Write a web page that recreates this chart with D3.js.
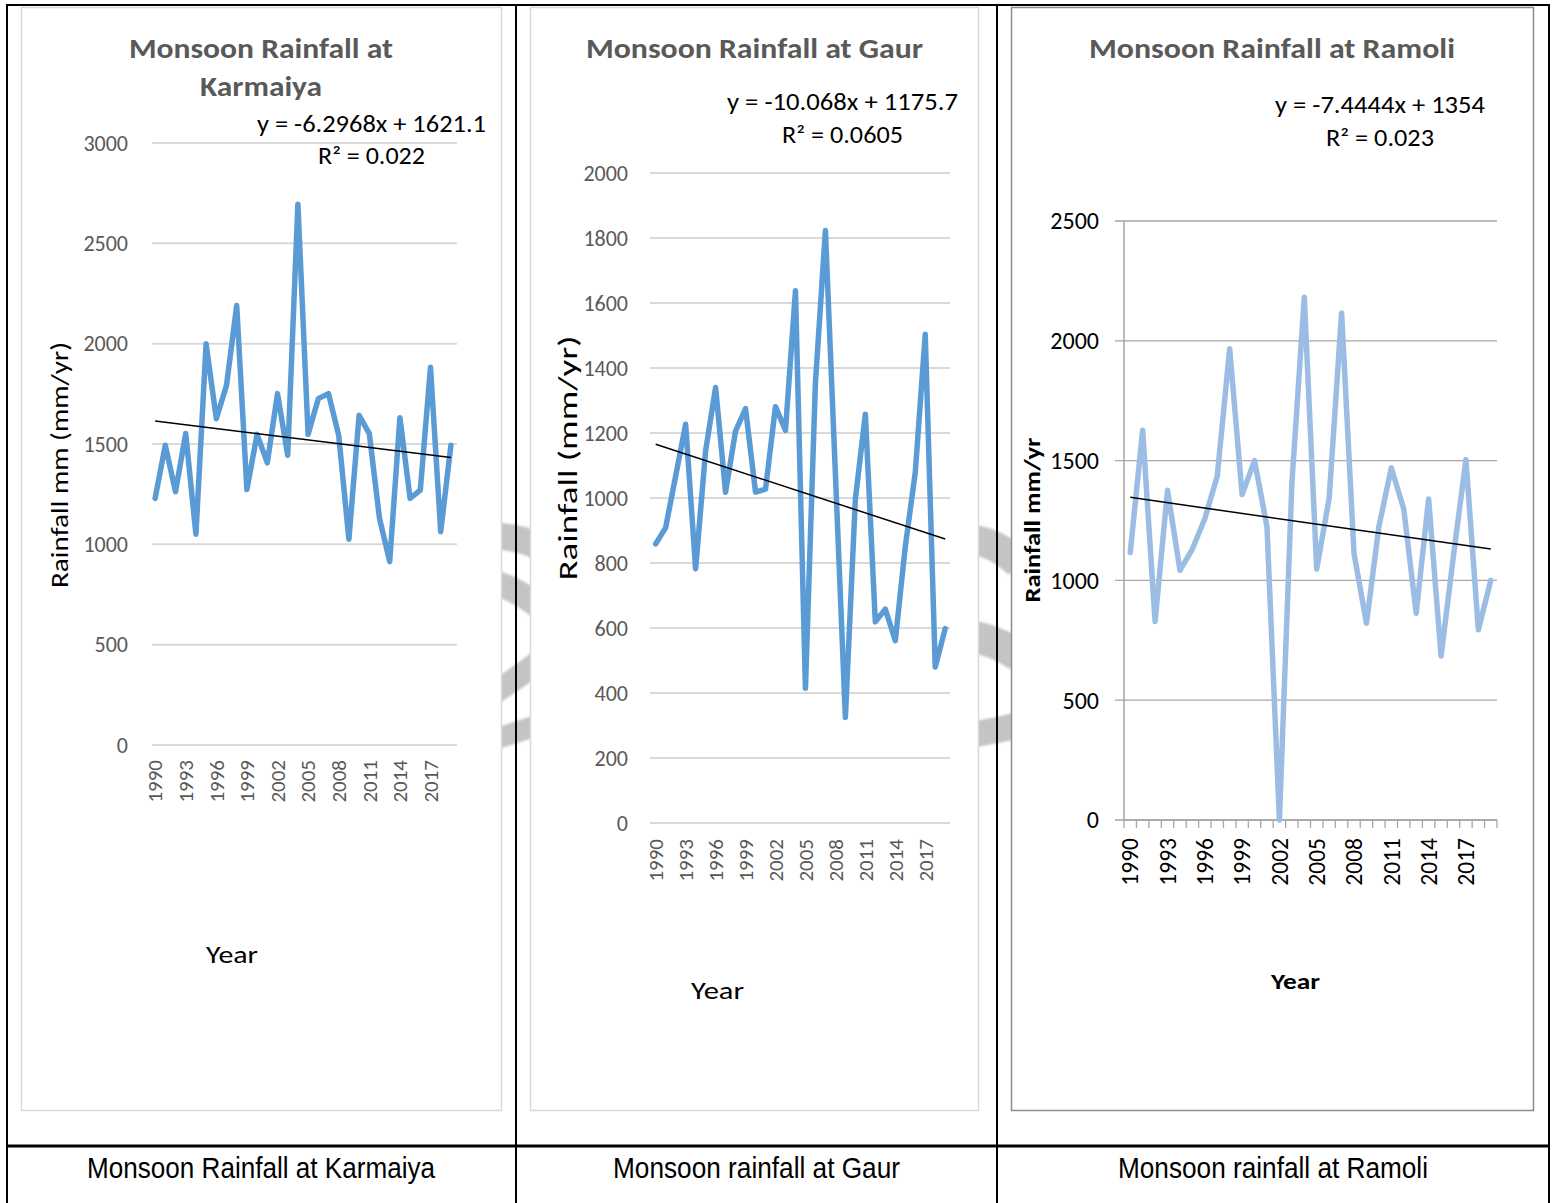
<!DOCTYPE html>
<html><head><meta charset="utf-8">
<script src="https://cdn.jsdelivr.net/npm/d3@7"></script>
<style>body{margin:0;background:#fff} svg{display:block}</style>
</head><body>
<svg id="c" width="1556" height="1203"></svg>
<script>
// ---------------- DATA ----------------
const years = [1990,1991,1992,1993,1994,1995,1996,1997,1998,1999,2000,2001,2002,2003,2004,2005,2006,2007,2008,2009,2010,2011,2012,2013,2014,2015,2016,2017,2018,2019];
const xTickYears = [1990,1993,1996,1999,2002,2005,2008,2011,2014,2017];

const karmaiya = [1229,1494,1262,1552,1050,1999,1626,1792,2190,1273,1548,1406,1751,1444,2695,1548,1726,1751,1543,1025,1643,1552,1129,914,1631,1229,1270,1883,1063,1494];
const gaur     = [859,909,1068,1227,782,1145,1340,1018,1206,1275,1018,1027,1281,1208,1638,415,1355,1823,1075,325,996,1258,619,658,561,850,1078,1504,480,598];
const ramoli   = [1116,1627,828,1376,1042,1131,1257,1436,1967,1358,1500,1224,0,1403,2182,1048,1343,2116,1112,821,1224,1470,1298,863,1340,684,1104,1504,794,1000];

const karmaiyaTicks = [0,500,1000,1500,2000,2500,3000];
const gaurTicks = [0,200,400,600,800,1000,1200,1400,1600,1800,2000];
const ramoliTicks = [0,500,1000,1500,2000,2500];

const karmaiyaTrend = {slope:-6.2968, intercept:1621.1, eq:"y = -6.2968x + 1621.1", r2:"R\u00B2 = 0.022"};
const gaurTrend     = {slope:-10.068, intercept:1175.7, eq:"y = -10.068x + 1175.7", r2:"R\u00B2 = 0.0605"};
const ramoliTrend   = {slope:-7.4444, intercept:1354,   eq:"y = -7.4444x + 1354",   r2:"R\u00B2 = 0.023"};

const captions = ["Monsoon Rainfall at Karmaiya","Monsoon rainfall at Gaur","Monsoon rainfall at Ramoli"];

// ---------------- LAYOUT ----------------
const FONT = "Carlito, Calibri, Lato, sans-serif";
const svg = d3.select("#c");

const defs = svg.append("defs");
defs.append("filter").attr("id","soft").append("feGaussianBlur").attr("stdDeviation",1.2);

function txt(g, s, cx, y, len, opts) {
  opts = opts || {};
  return g.append("text")
    .attr("x", cx - len/2).attr("y", y)
    .attr("font-family", opts.family || FONT)
    .attr("font-size", opts.size || 22)
    .attr("font-weight", opts.weight || "normal")
    .attr("fill", opts.fill || "#000")
    .attr("textLength", len).attr("lengthAdjust", "spacingAndGlyphs")
    .text(s);
}

// watermark fragments behind charts
const wm = svg.append("g").attr("fill","none").attr("stroke","#c4c4c4").attr("filter","url(#soft)");
[
  ["M492,536 Q515,536 538,546",27],["M492,582 Q515,588 538,606",25],["M492,694 Q515,680 538,662",23],["M492,740 Q515,733 538,725",21],
  ["M970,540 Q995,541 1019,564",30],["M970,636 Q995,640 1019,656",32],["M970,735 Q995,731 1019,725",26]
].forEach(([d,w]) => wm.append("path").attr("d",d).attr("stroke-width",w));

const panels = [
  {
    data: karmaiya, ticks: karmaiyaTicks, trend: karmaiyaTrend,
    frame: [21,7,480,1103], frameStroke: "#d9d9d9",
    xr: [150,456], yr: [745,143], dom: [0,3000], grid: [152,457], gridColor: "#d9d9d9",
    tickRight: 128, tickFill: "#595959", tickSize: 22, xLabTop: 760, xLabSize: 21,
    lineColor: "#5b9bd5",
    titles: [["Monsoon Rainfall at",261,58,264],["Karmaiya",261,96,122]],
    eq: [371.5,132,229], r2: [371.5,164,107], eqSize: 23.5,
    yTitle: ["Rainfall mm (mm/yr)",60,465,246,24,"normal"],
    xTitle: ["Year",232,963,52,24,"normal"]
  },
  {
    data: gaur, ticks: gaurTicks, trend: gaurTrend,
    frame: [530,7,448,1103], frameStroke: "#d9d9d9",
    xr: [650.7,950.2], yr: [823,173], dom: [0,2000], grid: [650,950], gridColor: "#d9d9d9",
    tickRight: 628, tickFill: "#595959", tickSize: 22, xLabTop: 839, xLabSize: 21,
    lineColor: "#5b9bd5",
    titles: [["Monsoon Rainfall at Gaur",754.5,58,337]],
    eq: [842.5,110,231], r2: [842.5,143,121], eqSize: 23.5,
    yTitle: ["Rainfall (mm/yr)",568,458,245,27,"normal"],
    xTitle: ["Year",717.5,999,53,24,"normal"]
  },
  {
    data: ramoli, ticks: ramoliTicks, trend: ramoliTrend,
    frame: [1011,7,522,1103], frameStroke: "#8c8c8c",
    xr: [1124,1497], yr: [820,221], dom: [0,2500], grid: [1115,1497], gridColor: "#a6a6a6",
    tickRight: 1099, tickFill: "#000", tickSize: 24, xLabTop: 838, xLabSize: 23.5,
    lineColor: "#9bbde3", axes: true,
    titles: [["Monsoon Rainfall at Ramoli",1272,58,366]],
    eq: [1380,113,210], r2: [1380,146,108], eqSize: 23.5,
    yTitle: ["Rainfall mm/yr",1032,520,165,23,"bold"],
    xTitle: ["Year",1295.5,989,49,23,"bold"]
  }
];

panels.forEach(p => {
  const g = svg.append("g");
  const [fx,fy,fw,fh] = p.frame;
  g.append("rect").attr("x",fx+0.5).attr("y",fy+0.5).attr("width",fw).attr("height",fh)
    .attr("fill","#fff").attr("stroke",p.frameStroke).attr("stroke-width",1.5);

  const x = d3.scaleBand().domain(years).range(p.xr).paddingInner(0).paddingOuter(0);
  const cx = d => x(d) + x.bandwidth()/2;
  const y = d3.scaleLinear().domain(p.dom).range(p.yr);

  // gridlines
  g.append("g").selectAll("line").data(p.ticks).join("line")
    .attr("x1",p.grid[0]).attr("x2",p.grid[1])
    .attr("y1",d=>y(d)).attr("y2",d=>y(d))
    .attr("stroke",p.gridColor).attr("stroke-width",p.axes?1.3:2);

  // y tick labels
  g.append("g").selectAll("text").data(p.ticks).join("text")
    .attr("x",p.tickRight).attr("y",d=>y(d)).attr("dy","0.35em")
    .attr("text-anchor","end").attr("font-family",FONT).attr("font-size",p.tickSize)
    .attr("fill",p.tickFill).text(d=>d);

  if (p.axes) {
    g.append("line").attr("x1",p.xr[0]).attr("x2",p.xr[0]).attr("y1",y(p.dom[1])).attr("y2",y(0))
      .attr("stroke","#a6a6a6").attr("stroke-width",1.5);
    g.append("line").attr("x1",p.xr[0]).attr("x2",p.xr[1]).attr("y1",y(0)).attr("y2",y(0))
      .attr("stroke","#a6a6a6").attr("stroke-width",1.5);
    const bounds = years.map(d => x(d)).concat([p.xr[1]]);
    g.append("g").selectAll("line").data(bounds).join("line")
      .attr("x1",d=>d).attr("x2",d=>d).attr("y1",y(0)).attr("y2",y(0)+8)
      .attr("stroke","#a6a6a6").attr("stroke-width",1.3);
  }

  // x tick labels (rotated)
  g.append("g").selectAll("text").data(xTickYears).join("text")
    .attr("transform",d=>`translate(${cx(d)},${p.xLabTop}) rotate(-90)`)
    .attr("dy","0.35em").attr("text-anchor","end")
    .attr("font-family",FONT).attr("font-size",p.xLabSize).attr("fill",p.tickFill)
    .text(d=>d);

  // data line
  g.append("path").datum(p.data)
    .attr("d", d3.line().x((d,i)=>cx(years[i])).y(d=>y(d)))
    .attr("fill","none").attr("stroke",p.lineColor).attr("stroke-width",5.5)
    .attr("stroke-linejoin","round").attr("stroke-linecap","round");

  // trend line from equation (x = 1..n)
  const n = years.length;
  const t = p.trend;
  g.append("line")
    .attr("x1",cx(years[0])).attr("y1",y(t.intercept + t.slope*1))
    .attr("x2",cx(years[n-1])).attr("y2",y(t.intercept + t.slope*n))
    .attr("stroke","#000").attr("stroke-width",1.5);

  // titles
  p.titles.forEach(([s,tx,ty,len]) => txt(g,s,tx,ty,len,{size:27.5,weight:"bold",fill:"#595959"}));
  txt(g,t.eq,p.eq[0],p.eq[1],p.eq[2],{size:p.eqSize});
  txt(g,t.r2,p.r2[0],p.r2[1],p.r2[2],{size:p.eqSize});

  // axis titles
  const [ys,ycx,ycy,ylen,ysz,ywt] = p.yTitle;
  g.append("text")
    .attr("transform",`translate(${ycx},${ycy}) rotate(-90)`)
    .attr("x",-ylen/2).attr("dy","0.35em")
    .attr("font-family",FONT).attr("font-size",ysz).attr("font-weight",ywt).attr("fill","#000")
    .attr("textLength",ylen).attr("lengthAdjust","spacingAndGlyphs").text(ys);
  const [xs,xcx,xcy,xlen,xsz,xwt] = p.xTitle;
  txt(g,xs,xcx,xcy,xlen,{size:xsz,weight:xwt});
});

// ---------------- TABLE ----------------
const tb = svg.append("g").attr("stroke","#000");
tb.append("line").attr("x1",6).attr("x2",1550).attr("y1",5).attr("y2",5).attr("stroke-width",2);
[7,516,997,1549].forEach(xv => tb.append("line").attr("x1",xv).attr("x2",xv).attr("y1",4).attr("y2",1203).attr("stroke-width",2));
tb.append("line").attr("x1",6).attr("x2",1550).attr("y1",1146).attr("y2",1146).attr("stroke-width",3);

const capPos = [[261,348],[756.5,287],[1273,310]];
captions.forEach((c,i) => {
  txt(svg,c,capPos[i][0],1178,capPos[i][1],{size:30,family:"'Liberation Sans Narrow','Arial Narrow','Liberation Sans',sans-serif"});
});
</script>
</body></html>
